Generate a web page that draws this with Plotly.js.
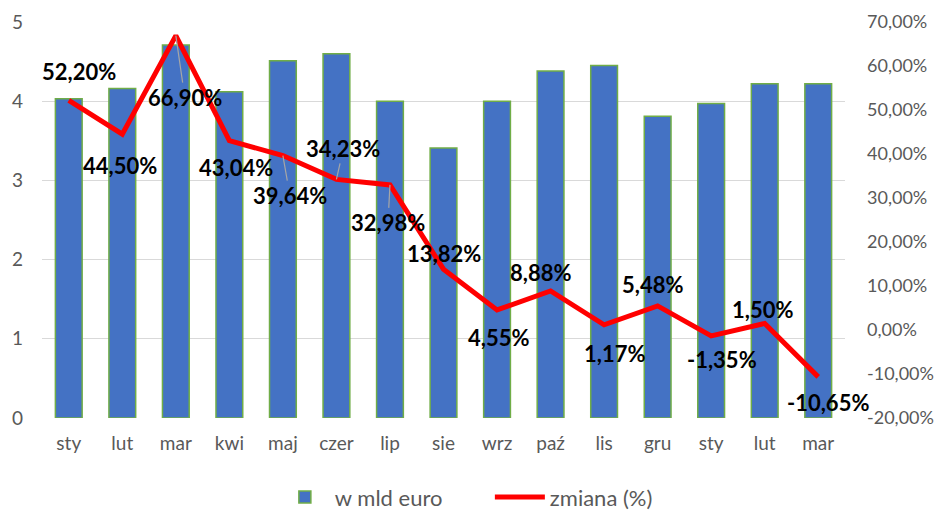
<!DOCTYPE html>
<html>
<head>
<meta charset="utf-8">
<script src="https://cdn.plot.ly/plotly-3.0.1.min.js"></script>
<style>html,body{margin:0;padding:0;background:#fff;}#chart{width:943px;height:511px;}</style>
</head>
<body>
<div id="chart"></div>
<script>
const months = ["sty","lut","mar","kwi","maj","czer","lip","sie","wrz","paź","lis","gru","sty","lut","mar"];
const valuesBn = [4.03,4.16,4.71,4.12,4.51,4.60,4.00,3.41,4.00,4.38,4.45,3.81,3.97,4.22,4.22];
const changePct = [52.20,44.50,66.90,43.04,39.64,34.23,32.98,13.82,4.55,8.88,1.17,5.48,-1.35,1.50,-10.65];
const rightTicks = [-20,-10,0,10,20,30,40,50,60,70];
const leftTicks = [0,1,2,3,4,5];

// label offsets (pixels) and leader flags — styling only
const offX = [10,-2,9,7,7,7,-2,0,1,-10,10,-5,11,-2,10];
const offY = [-29,31,62,27,40,-31,38,-16,28,-18,29,-21,24,-14,26];
const leader = [false,false,true,false,true,true,true,false,false,false,false,false,false,false,false];

const xs = months.map((m,i)=>i);
const fmt = v => v.toFixed(2).replace('.',',') + '%';

const bars = {
  type:'bar', x: xs, y: valuesBn, name:'w mld euro',
  width:0.5,
  marker:{color:'#4472C4', line:{color:'#70AD47', width:1.5}},
  hoverinfo:'skip'
};
const line = {
  type:'scatter', mode:'lines', x: xs, y: changePct, yaxis:'y2', name:'zmiana (%)',
  line:{color:'#FF0000', width:5}, hoverinfo:'skip'
};

const annotations = changePct.map((v,i)=>({
  x:i, y:v, xref:'x', yref:'y2',
  text: fmt(v),
  showarrow:true, arrowhead:0, arrowwidth:1.2,
  arrowcolor: leader[i] ? '#A6A6A6' : 'rgba(0,0,0,0)',
  ax: offX[i], ay: offY[i],
  font:{family:'Lato, Carlito, sans-serif', size:22, color:'#000', weight:700}
}));

const layout = {
  width:943, height:511,
  margin:{l:42, r:98, t:22, b:93, autoexpand:false},
  paper_bgcolor:'#fff', plot_bgcolor:'#fff',
  font:{family:'Lato, Carlito, sans-serif', color:'#595959'},
  showlegend:true,
  legend:{orientation:'h', x:0.29, xanchor:'left', y:-0.2, yanchor:'middle',
          font:{size:22, color:'#595959'}, itemwidth:50, entrywidth:150, tracegroupgap:0},
  bargap:0.5,
  xaxis:{range:[-0.5,14.5], tickvals:xs, ticktext:months, showgrid:false, zeroline:false,
         showline:false, ticks:'', tickfont:{size:19, color:'#595959'}, ticklabelstandoff:12, fixedrange:true},
  yaxis:{range:[0,5], tickvals:leftTicks, ticktext:leftTicks.map(String), showgrid:true,
         gridcolor:'#D9D9D9', gridwidth:1.3, zeroline:false, showline:false, ticks:'',
         tickfont:{size:19, color:'#595959'}, ticklabelstandoff:18},
  yaxis2:{range:[-20,70], overlaying:'y', side:'right', tickvals:rightTicks,
          ticktext:rightTicks.map(v=>v.toFixed(2).replace('.',',')+'%'),
          showgrid:false, zeroline:false, showline:false, ticks:'',
          tickfont:{size:18, color:'#595959'}, ticklabelstandoff:21},
  annotations: annotations
};

Plotly.newPlot('chart',[bars,line],layout,{displayModeBar:false, staticPlot:true});
</script>
</body>
</html>
